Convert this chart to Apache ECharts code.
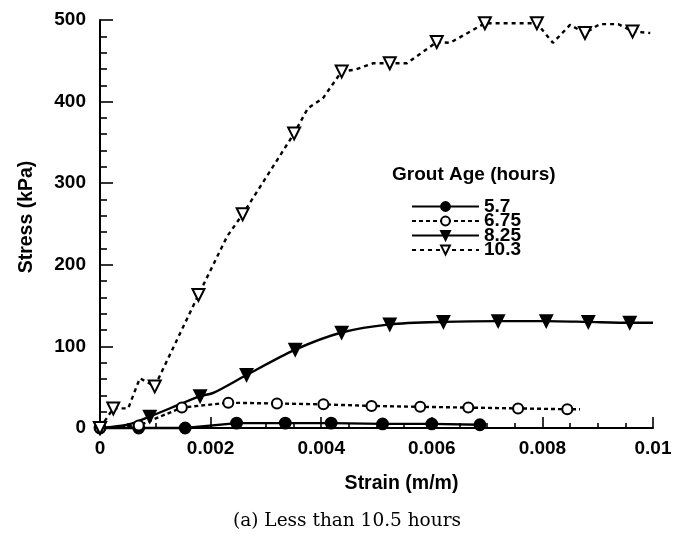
<!DOCTYPE html>
<html>
<head>
<meta charset="utf-8">
<script src="https://cdn.jsdelivr.net/npm/echarts@6/dist/echarts.min.js"></script>
<style>
  html, body { margin: 0; padding: 0; background: #fff; }
  #chart { width: 683px; height: 535px; }
</style>
</head>
<body>
<div id="chart"></div>
<script>
// Tick labels
const xTickLabels = ['0', '0.002', '0.004', '0.006', '0.008', '0.01'];
const yTickLabels = ['0', '100', '200', '300', '400', '500'];

// Grout age 5.7 hours
const strain57 = [0, 0.0007, 0.00154, 0.00247, 0.00335, 0.00418, 0.00511, 0.006, 0.00687];
const stress57 = [0, 0, 0, 6, 6, 6, 5, 5, 4];
const marks57 = [0, 1, 2, 3, 4, 5, 6, 7, 8];

// Grout age 6.75 hours
const strain675 = [0, 0.0007, 0.00148, 0.00232, 0.0032, 0.00404, 0.00491, 0.00579, 0.00666, 0.00756, 0.00845, 0.00868];
const stress675 = [0, 3, 25, 31, 30, 29, 27, 26, 25, 24, 23, 23];
const marks675 = [0, 1, 2, 3, 4, 5, 6, 7, 8, 9, 10];

// Grout age 8.25 hours
const strain825 = [0, 0.0005, 0.0009, 0.00181, 0.00205, 0.00265, 0.00353, 0.00437, 0.00524, 0.00621, 0.0072, 0.00807, 0.00883, 0.00958, 0.01];
const stress825 = [0, 4, 14, 39, 43, 65, 96, 117, 127, 130, 131, 131, 130, 129, 129];
const marks825 = [0, 2, 3, 5, 6, 7, 8, 9, 10, 11, 12, 13];

// Grout age 10.3 hours
const strain103 = [0, 0.00024, 0.00051, 0.00072, 0.00099, 0.00178, 0.0023, 0.00258, 0.00351, 0.00376, 0.00403, 0.00437, 0.00461, 0.00494, 0.00524, 0.00555, 0.00609, 0.00633, 0.00696, 0.0079, 0.00819, 0.0085, 0.00877, 0.00904, 0.00937, 0.00963, 0.00995];
const stress103 = [0, 24, 24, 61, 51, 163, 235, 262, 361, 392, 404, 437, 439, 447, 447, 447, 473, 472, 496, 496, 472, 494, 484, 495, 495, 486, 484];
const marks103 = [0, 1, 4, 5, 7, 8, 11, 14, 16, 18, 19, 22, 25];

const FONT = '"Liberation Sans", Arial, sans-serif';
const INK = '#000';

// Points without a marker get symbol 'none'
function points(xs, ys, marks) {
  return xs.map((x, i) => {
    const item = { value: [x, ys[i]] };
    if (!marks.includes(i)) item.symbol = 'none';
    return item;
  });
}

function lineSeries(name, xs, ys, marks, opts) {
  return Object.assign({
    name: name,
    type: 'line',
    data: points(xs, ys, marks),
    clip: false,
    showSymbol: true,
    showAllSymbol: true,
    color: INK,
    itemStyle: { color: INK, borderColor: INK, borderWidth: 1.8 },
    emphasis: { disabled: true },
    animation: false
  }, opts);
}

const chart = echarts.init(document.getElementById('chart'), null, { renderer: 'canvas' });

chart.setOption({
  backgroundColor: '#fff',
  animation: false,
  title: {
    text: 'Grout Age (hours)',
    left: 392,
    top: 165,
    padding: 0,
    textStyle: { fontFamily: FONT, fontSize: 19, fontWeight: 'bold', color: INK }
  },
  legend: {
    orient: 'vertical',
    left: 411,
    top: 197,
    padding: 0,
    itemWidth: 67,
    itemHeight: 11,
    itemGap: -4.5,
    selectedMode: false,
    textStyle: { fontFamily: FONT, fontSize: 19, fontWeight: 'bold', color: INK },
    data: ['5.7', '6.75', '8.25', '10.3']
  },
  grid: { left: 100, right: 30, top: 20, bottom: 107, containLabel: false },
  xAxis: {
    type: 'value',
    min: 0,
    max: 0.01,
    interval: 0.002,
    name: 'Strain (m/m)',
    nameLocation: 'middle',
    nameGap: 46,
    nameTextStyle: { fontFamily: FONT, fontSize: 19.5, fontWeight: 'bold', color: INK, padding: [0, 0, 0, 50] },
    axisLine: { show: true, lineStyle: { color: INK, width: 2 } },
    axisTick: { show: true, inside: true, length: 11, lineStyle: { color: INK, width: 1.6 } },
    minorTick: { show: true, splitNumber: 4, length: 5, lineStyle: { color: INK, width: 1.6 } },
    splitLine: { show: false },
    axisLabel: {
      fontFamily: FONT, fontSize: 19, fontWeight: 'bold', color: INK, margin: 11,
      formatter: (v, i) => xTickLabels[i] !== undefined ? xTickLabels[i] : String(v)
    }
  },
  yAxis: {
    type: 'value',
    min: 0,
    max: 500,
    interval: 100,
    name: 'Stress (kPa)',
    nameLocation: 'middle',
    nameGap: 63,
    nameRotate: 90,
    nameTextStyle: { fontFamily: FONT, fontSize: 19.5, fontWeight: 'bold', color: INK, padding: [0, 0, 0, 14] },
    axisLine: { show: true, lineStyle: { color: INK, width: 2 } },
    axisTick: { show: true, inside: true, length: 13, lineStyle: { color: INK, width: 1.6 } },
    minorTick: { show: true, splitNumber: 5, length: 7, lineStyle: { color: INK, width: 1.6 } },
    splitLine: { show: false },
    axisLabel: {
      fontFamily: FONT, fontSize: 19, fontWeight: 'bold', color: INK, margin: 14,
      formatter: (v, i) => yTickLabels[i] !== undefined ? yTickLabels[i] : String(v)
    }
  },
  graphic: [{
    type: 'text',
    style: {
      x: 347, y: 521,
      text: '(a) Less than 10.5 hours',
      font: '18.5px "DejaVu Serif"',
      fill: INK,
      textAlign: 'center',
      verticalAlign: 'middle'
    }
  }],
  series: [
    lineSeries('5.7', strain57, stress57, marks57, {
      symbol: 'circle', symbolSize: 11,
      lineStyle: { color: INK, width: 2.4, type: 'solid' }
    }),
    lineSeries('6.75', strain675, stress675, marks675, {
      symbol: 'emptyCircle', symbolSize: 10,
      lineStyle: { color: INK, width: 2.4, type: [4, 3] }
    }),
    lineSeries('8.25', strain825, stress825, marks825, {
      symbol: 'triangle', symbolSize: 12, symbolRotate: 180, smooth: 0.25,
      lineStyle: { color: INK, width: 2.4, type: 'solid' }
    }),
    lineSeries('10.3', strain103, stress103, marks103, {
      symbol: 'emptyTriangle', symbolSize: 12, symbolRotate: 180,
      lineStyle: { color: INK, width: 2.4, type: [4, 4] }
    })
  ]
});
</script>
</body>
</html>
